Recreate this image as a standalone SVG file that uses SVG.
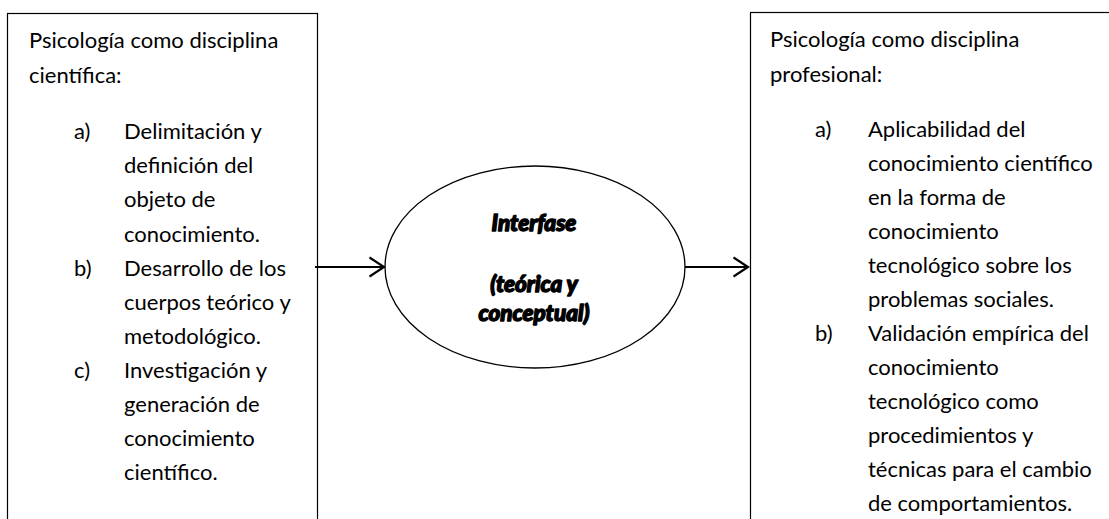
<svg xmlns="http://www.w3.org/2000/svg" width="1109" height="519" viewBox="0 0 1109 519">
  <style>
    .box { fill: #ffffff; stroke: #000000; stroke-width: 1.2; }
    .t { font-family: Lato, "Liberation Sans", sans-serif; font-size: 22px; fill: #000000; }
    .e { font-family: Lato, "Liberation Sans", sans-serif; font-size: 22.5px; font-weight: 900; font-style: italic; fill: #000000; stroke: #000000; stroke-width: 1.4; stroke-linejoin: round; text-anchor: middle; }
    .conn { stroke: #000000; stroke-width: 2.2; fill: none; }
  </style>
  <defs>
    <marker id="arr" viewBox="0 0 17 22" refX="15.5" refY="11" markerWidth="17" markerHeight="22" markerUnits="userSpaceOnUse" orient="auto">
      <path d="M1,1.5 L15.5,11 L1,20.5" fill="none" stroke="#000000" stroke-width="2.2"/>
    </marker>
  </defs>
  <rect width="1109" height="519" fill="#ffffff"/>

  <g id="node-cientifica">
    <rect class="box" x="7.5" y="13.5" width="310" height="520"/>
    <text class="t" x="29" y="48">Psicología como disciplina</text>
    <text class="t" x="29" y="83">científica:</text>
    <text class="t" x="74" y="139">a)</text>
    <text class="t" x="124" y="139">Delimitación y</text>
    <text class="t" x="124" y="173">definición del</text>
    <text class="t" x="124" y="207">objeto de</text>
    <text class="t" x="124" y="242">conocimiento.</text>
    <text class="t" x="74" y="276">b)</text>
    <text class="t" x="124" y="276">Desarrollo de los</text>
    <text class="t" x="124" y="310">cuerpos teórico y</text>
    <text class="t" x="124" y="344">metodológico.</text>
    <text class="t" x="74" y="378">c)</text>
    <text class="t" x="124" y="378">Investigación y</text>
    <text class="t" x="124" y="412">generación de</text>
    <text class="t" x="124" y="446">conocimiento</text>
    <text class="t" x="124" y="480">científico.</text>
  </g>

  <g id="node-interfase">
    <ellipse cx="535" cy="267" rx="150" ry="101" fill="#ffffff" stroke="#000000" stroke-width="1.3"/>
    <text class="e" x="534" y="231">Interfase</text>
    <text class="e" x="534" y="292">(teórica y</text>
    <text class="e" x="534" y="321">conceptual)</text>
  </g>

  <g id="node-profesional">
    <rect class="box" x="750.5" y="12.5" width="370" height="520"/>
    <text class="t" x="770" y="47">Psicología como disciplina</text>
    <text class="t" x="770" y="82">profesional:</text>
    <text class="t" x="815" y="137">a)</text>
    <text class="t" x="868" y="137">Aplicabilidad del</text>
    <text class="t" x="868" y="171">conocimiento científico</text>
    <text class="t" x="868" y="205">en la forma de</text>
    <text class="t" x="868" y="239">conocimiento</text>
    <text class="t" x="868" y="273">tecnológico sobre los</text>
    <text class="t" x="868" y="307">problemas sociales.</text>
    <text class="t" x="815" y="341">b)</text>
    <text class="t" x="868" y="341">Validación empírica del</text>
    <text class="t" x="868" y="375">conocimiento</text>
    <text class="t" x="868" y="409">tecnológico como</text>
    <text class="t" x="868" y="443">procedimientos y</text>
    <text class="t" x="868" y="477">técnicas para el cambio</text>
    <text class="t" x="868" y="511">de comportamientos.</text>
  </g>

  <g id="connectors">
    <line class="conn" x1="315" y1="267" x2="384" y2="267" marker-end="url(#arr)"/>
    <line class="conn" x1="685" y1="267" x2="748" y2="267" marker-end="url(#arr)"/>
  </g>
</svg>
